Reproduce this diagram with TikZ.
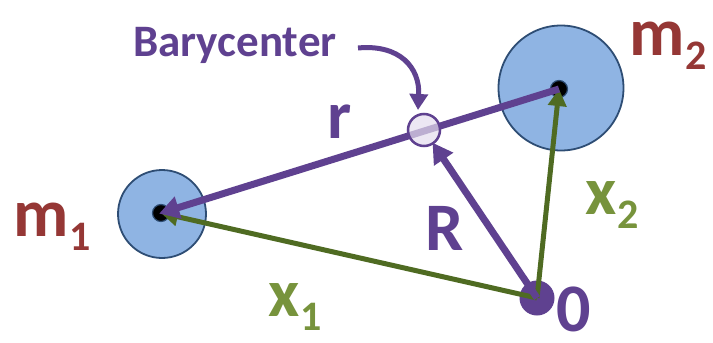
\documentclass[tikz,border=0pt]{standalone}
\usepackage{fontspec}
\setmainfont{Carlito}
\usetikzlibrary{arrows.meta}
\definecolor{purp}{HTML}{5F4190}
\definecolor{grn}{HTML}{4F6B22}
\definecolor{grnt}{HTML}{77933C}
\definecolor{redt}{HTML}{953735}
\definecolor{bfill}{HTML}{8FB4E3}
\definecolor{bdraw}{HTML}{2E4D74}
\definecolor{bary}{HTML}{E4DDEE}
\newcommand{\mysub}[1]{\kern1pt\raisebox{-14pt}{\fontsize{42}{42}\selectfont #1}}
\tikzset{
  mass/.style={circle,draw=bdraw,line width=1.8pt,fill=bfill,inner sep=0pt},
  core/.style={circle,fill=black,draw=bdraw,line width=1.2pt,inner sep=0pt,minimum size=17pt},
  purpvec/.style={purp,line width=7pt,-{Triangle[length=20pt,width=22pt]},shorten >=-2pt},
  grnvec/.style={grn,line width=5pt,-{Triangle[length=17pt,width=18pt]}},
  lbl/.style={font=\fontsize{68}{68}\selectfont\bfseries,inner sep=0pt},
}
\begin{document}
\begin{tikzpicture}[x=1pt,y=-1pt]
\useasboundingbox (0,0) rectangle (713,343);
\fill[white] (0,0) rectangle (713,343);
% masses
\node[mass,minimum size=88pt] (M1) at (162,214) {};
\node[mass,minimum size=125pt] (M2) at (561,88) {};
\node[core] (c1) at (161,213) {};
\node[core] (c2) at (559,89) {};
% origin
\node[circle,fill=purp,inner sep=0pt,minimum size=35pt] (O) at (537,298) {};
% barycenter position
\coordinate (B) at (424,130);
% vectors
\draw[grnvec] (O.center) -- (c1.center);
\draw[grnvec] (O.center) -- (c2.center);
\draw[purpvec] (c2.center) -- (c1.center);
\node[circle,draw=purp,line width=2.5pt,fill=bary,fill opacity=0.7,inner sep=0pt,minimum size=32pt] (bc) at (B) {};
\draw[purpvec] (O.center) -- (bc);
% labels
\node[lbl,text=redt,anchor=base] (m1) at (52,236) {m\mysub{1}};
\node[lbl,text=redt,anchor=base] (m2) at (668,55) {m\mysub{2}};
\node[lbl,text=grnt,anchor=base] (x1) at (295,316) {x\mysub{1}};
\node[lbl,text=grnt,anchor=base] (x2) at (612,214) {x\mysub{2}};
\node[lbl,text=purp,anchor=base] (R) at (445,250) {R};
\node[lbl,text=purp,anchor=base] (r) at (340,138) {r};
\node[lbl,text=purp,anchor=base] (zero) at (574,331) {0};
\node[text=purp,font=\fontsize{45}{45}\selectfont\bfseries,anchor=base,inner sep=0pt] (bt) at (235,56) {Barycenter};
\coordinate (bs) at (358,48);
\coordinate (be) at (418,110);
\draw[purp,line width=5pt,-{Triangle[length=16pt,width=18pt]}] (bs) .. controls (400,44) and (420,68) .. (be);
\end{tikzpicture}
\end{document}
